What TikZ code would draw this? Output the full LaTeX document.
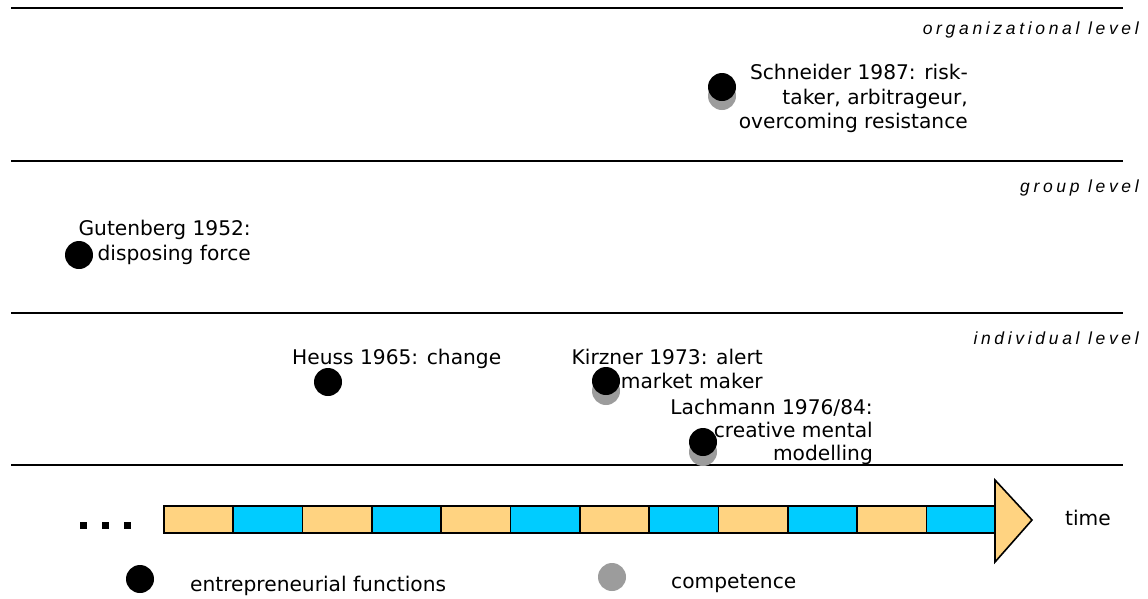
\documentclass[tikz,border=0pt]{standalone}
\usepackage{fontspec}
\setmainfont{DejaVu Sans}
\newfontfamily\levelfont[LetterSpace=21]{Liberation Sans}
\definecolor{segorange}{HTML}{FFD381}
\definecolor{segcyan}{HTML}{00CCFF}
\definecolor{compgrey}{HTML}{9C9C9C}
\begin{document}
\begin{tikzpicture}[x=1pt,y=-1pt,
  txt/.style={inner sep=0pt,font=\fontsize{20.2}{24}\selectfont},
  lvl/.style={inner sep=0pt,anchor=base east,font=\fontsize{17.5}{20}\levelfont\itshape},
  sep/.style={line width=2pt},
  fn/.style={circle,fill=black,minimum size=28pt,inner sep=0pt},
  comp/.style={circle,fill=compgrey,minimum size=28pt,inner sep=0pt},
  seg/.style={draw=black,line width=1.6pt,minimum height=27pt,inner sep=0pt}]
\useasboundingbox (0,0) rectangle (1148,598);

% level separators
\foreach \yy in {8,161,313,465} \draw[sep] (11,\yy) -- (1123,\yy);

% level names
\node[lvl] (lorg) at (1139,34) {organizational level};
\node[lvl] (lgrp) at (1139,192) {group level};
\node[lvl] (lind) at (1139,344) {individual level};

% Schneider
\node[comp] (sg) at (722,96) {};
\node[fn] (sb) at (722,87) {};
\node[txt,anchor=base east] (s1) at (968,79) {Schneider 1987: risk-};
\node[txt,anchor=base east] (s2) at (968,104) {taker, arbitrageur,};
\node[txt,anchor=base east] (s3) at (968,128) {overcoming resistance};

% Gutenberg
\node[fn] (gb) at (79,255) {};
\node[txt,anchor=base east] (g1) at (251,235) {Gutenberg 1952:};
\node[txt,anchor=base east] (g2) at (251,260) {disposing force};

% Heuss
\node[fn] (hb) at (328,382) {};
\node[txt,anchor=base west] (h1) at (292,364) {Heuss 1965: change};

% Kirzner
\node[comp] (kg) at (606,391) {};
\node[fn] (kb) at (606,381) {};
\node[txt,anchor=base east] (k1) at (763,364) {Kirzner 1973: alert};
\node[txt,anchor=base east] (k2) at (763,388) {market maker};

% Lachmann
\node[comp] (lg) at (703,452) {};
\node[fn] (lb) at (703,442) {};
\node[txt,anchor=base east] (m1) at (873,414) {Lachmann 1976/84:};
\node[txt,anchor=base east] (m2) at (873,437) {creative mental};
\node[txt,anchor=base east] (m3) at (873,460) {modelling};

% time arrow
\foreach \i in {0,...,11} {
  \pgfmathtruncatemacro{\odd}{mod(\i,2)}
  \pgfmathsetmacro{\xl}{163+\i*69.33}
  \ifnum\odd=0
    \node[seg,fill=segorange,minimum width=69.33pt,anchor=west] (t\i) at (\xl,519.5) {};
  \else
    \node[seg,fill=segcyan,minimum width=69.33pt,anchor=west] (t\i) at (\xl,519.5) {};
  \fi
}
\coordinate (htop) at (995,480);
\coordinate (htip) at (1032,520);
\coordinate (hbot) at (995,562);
\draw[fill=segorange,line width=1.6pt,line join=miter] (htop) -- (htip) -- (hbot) -- cycle;
\node[txt,anchor=west] (time) at (1065,518) {time};

% ellipsis before the arrow
\foreach \xx in {83,105,127} \fill (\xx-3.5,521.5) rectangle (\xx+3.5,528.5);

% legend
\node[fn] (legf) at (140,579) {};
\node[txt,anchor=base west] (legft) at (190,591) {entrepreneurial functions};
\node[comp] (legc) at (612,577) {};
\node[txt,anchor=base west] (legct) at (671,588) {competence};
\end{tikzpicture}
\end{document}
